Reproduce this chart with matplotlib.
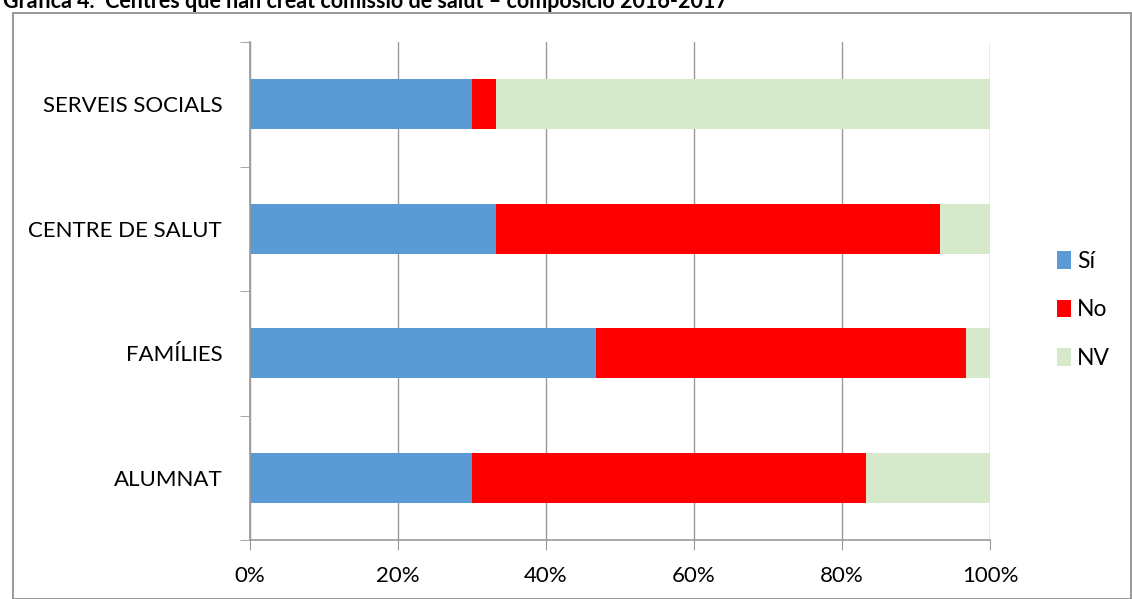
import matplotlib
matplotlib.use("Agg")
import matplotlib.pyplot as plt
from matplotlib.patches import Rectangle
from matplotlib.ticker import PercentFormatter

plt.rcParams['font.family'] = ['Lato', 'DejaVu Sans']

# data (share of centres, %)
categories = ['ALUMNAT', 'FAMÍLIES', 'CENTRE DE SALUT', 'SERVEIS SOCIALS']
si = [30.0, 46.7, 33.3, 30.0]
no = [53.3, 50.0, 60.0, 3.3]
nv = [16.7, 3.3, 6.7, 66.7]
series = [('Sí', si, '#5b9bd5'), ('No', no, '#ff0000'), ('NV', nv, '#d6e9ca')]
title = 'Gràfica 4.  Centres que han creat comissió de salut \u2013 composició 2016-2017'

W, H = 1132, 599
fig = plt.figure(figsize=(W / 100, H / 100), dpi=100)

# outer chart frame
fig.patches.append(Rectangle((13 / W, 0), (W - 14) / W, (H - 13) / H,
                             transform=fig.transFigure, fill=False,
                             edgecolor='#888888', linewidth=1.2))
fig.text(3 / W, 1 + 9 / H, title, fontsize=15.5, fontweight='bold',
         va='top', ha='left')

ax = fig.add_axes([250 / W, 1 - 540 / H, 740 / W, 498 / H])
y = range(len(categories))
left = [0.0] * len(categories)
for name, vals, col in series:
    ax.barh(y, vals, left=left, height=0.4, color=col, label=name, zorder=2)
    left = [a + b for a, b in zip(left, vals)]

ax.set_xlim(0, 100)
ax.set_ylim(-0.5, len(categories) - 0.5)
ax.set_xticks(range(0, 101, 20))
ax.xaxis.set_major_formatter(PercentFormatter(decimals=0))
ax.set_yticks(list(y))
ax.set_yticklabels(categories)
ax.set_yticks([i - 0.5 for i in range(len(categories) + 1)], minor=True)
ax.tick_params(axis='y', which='major', length=0, pad=20, labelsize=16)
ax.tick_params(axis='y', which='minor', length=7, color='#999999', direction='out')
ax.tick_params(axis='x', length=7, color='#999999', pad=12, labelsize=16)
ax.grid(axis='x', color='#999999', linewidth=1, zorder=0)
for s in ['top', 'right']:
    ax.spines[s].set_visible(False)
for s in ['left', 'bottom']:
    ax.spines[s].set_color('#999999')
    ax.spines[s].set_linewidth(1.2)

ax.legend(loc='center left', bbox_to_anchor=(1.062, 0.462), frameon=False,
          fontsize=16.5, handlelength=0.65, handleheight=0.8, handletextpad=0.25,
          labelspacing=1.2)

fig.savefig('out.png', dpi=100)
